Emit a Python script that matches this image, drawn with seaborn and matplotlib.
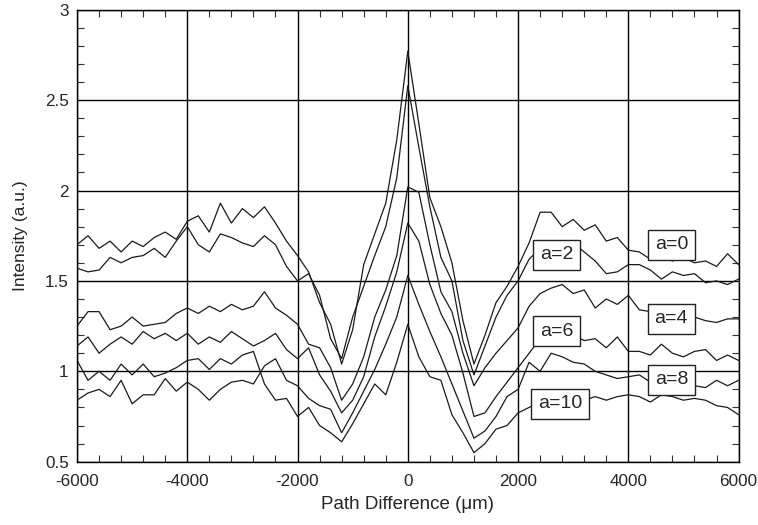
import numpy as np
import pandas as pd
import matplotlib
matplotlib.use("Agg")
import matplotlib.pyplot as plt
from matplotlib.ticker import MultipleLocator, FuncFormatter
import seaborn as sns

# ---- data ----
path_diff = list(range(-6000, 6001, 200))

a0 = [1.70, 1.75, 1.68, 1.72, 1.66, 1.72, 1.69, 1.74, 1.77, 1.73, 1.83,
      1.86, 1.77, 1.93, 1.82, 1.90, 1.85, 1.91, 1.82, 1.72, 1.64,
      1.55, 1.38, 1.26, 1.04, 1.23, 1.59, 1.76, 1.93, 2.28, 2.77,
      2.37, 1.96, 1.80, 1.60, 1.28, 1.04, 1.20, 1.38, 1.47, 1.58,
      1.71, 1.88, 1.88, 1.80, 1.84, 1.78, 1.81, 1.72, 1.74, 1.67,
      1.66, 1.62, 1.64, 1.61, 1.63, 1.60, 1.61, 1.58, 1.65, 1.59]

a2 = [1.57, 1.55, 1.56, 1.63, 1.60, 1.63, 1.64, 1.68, 1.63, 1.72, 1.80,
      1.70, 1.66, 1.76, 1.74, 1.71, 1.69, 1.75, 1.70, 1.58, 1.50,
      1.54, 1.42, 1.18, 1.07, 1.30, 1.47, 1.64, 1.80, 2.07, 2.58,
      2.24, 1.91, 1.63, 1.50, 1.17, 0.98, 1.14, 1.30, 1.42, 1.50,
      1.62, 1.68, 1.72, 1.70, 1.71, 1.66, 1.61, 1.54, 1.55, 1.59,
      1.59, 1.56, 1.51, 1.55, 1.53, 1.54, 1.49, 1.50, 1.48, 1.51]

a4 = [1.25, 1.33, 1.33, 1.23, 1.25, 1.30, 1.25, 1.26, 1.27, 1.32, 1.35,
      1.32, 1.36, 1.33, 1.37, 1.34, 1.36, 1.44, 1.35, 1.31, 1.26,
      1.15, 1.13, 1.02, 0.84, 0.93, 1.08, 1.30, 1.45, 1.64, 2.02,
      1.99, 1.70, 1.44, 1.33, 1.10, 0.92, 1.02, 1.10, 1.17, 1.24,
      1.36, 1.43, 1.46, 1.48, 1.43, 1.45, 1.35, 1.40, 1.37, 1.42,
      1.34, 1.33, 1.31, 1.31, 1.30, 1.30, 1.28, 1.27, 1.29, 1.29]

a6 = [1.14, 1.19, 1.10, 1.15, 1.19, 1.15, 1.22, 1.18, 1.21, 1.17, 1.21,
      1.15, 1.19, 1.16, 1.22, 1.18, 1.14, 1.17, 1.21, 1.12, 1.07,
      1.13, 0.98, 0.89, 0.77, 0.84, 0.97, 1.19, 1.36, 1.55, 1.82,
      1.72, 1.48, 1.32, 1.20, 0.99, 0.75, 0.77, 0.86, 0.94, 1.02,
      1.10, 1.18, 1.21, 1.22, 1.20, 1.17, 1.18, 1.13, 1.19, 1.11,
      1.11, 1.09, 1.15, 1.10, 1.08, 1.11, 1.12, 1.06, 1.09, 1.06]

a8 = [0.84, 0.88, 0.90, 0.86, 0.95, 0.82, 0.87, 0.87, 0.96, 0.89, 0.94,
      0.90, 0.84, 0.90, 0.94, 0.95, 0.93, 1.03, 1.07, 0.95, 0.92,
      0.85, 0.81, 0.79, 0.66, 0.77, 0.89, 1.01, 1.15, 1.30, 1.53,
      1.37, 1.22, 1.08, 0.93, 0.78, 0.63, 0.67, 0.75, 0.86, 0.90,
      1.05, 1.00, 1.10, 1.08, 1.05, 1.04, 1.00, 0.98, 0.96, 0.97,
      0.98, 0.94, 0.95, 0.94, 0.93, 0.92, 0.91, 0.95, 0.92, 0.95]

a10 = [1.06, 0.95, 1.00, 0.95, 1.04, 0.98, 1.04, 0.97, 0.99, 1.02, 1.06,
       1.07, 1.01, 1.07, 1.04, 1.09, 1.11, 0.93, 0.84, 0.85, 0.75,
       0.80, 0.70, 0.66, 0.61, 0.71, 0.82, 0.93, 0.87, 1.05, 1.26,
       1.08, 0.97, 0.95, 0.76, 0.66, 0.55, 0.60, 0.68, 0.70, 0.77,
       0.80, 0.83, 0.85, 0.85, 0.85, 0.84, 0.86, 0.84, 0.86, 0.87,
       0.86, 0.83, 0.87, 0.86, 0.84, 0.85, 0.84, 0.81, 0.80, 0.76]

series_names = ["a=0", "a=2", "a=4", "a=6", "a=8", "a=10"]
series_values = [a0, a2, a4, a6, a8, a10]

# label box positions (data coords)
label_x = [4780, 2700, 4780, 2700, 4780, 2760]
label_y = [1.70, 1.645, 1.29, 1.222, 0.953, 0.821]

x_ticks = [-6000, -4000, -2000, 0, 2000, 4000, 6000]
y_ticks = [0.5, 1, 1.5, 2, 2.5, 3]

# ---- build long-form table ----
frames = []
for name, vals in zip(series_names, series_values):
    frames.append(pd.DataFrame({"x": path_diff, "y": vals, "series": name}))
df = pd.concat(frames, ignore_index=True)

sns.set_style("white")
plt.rcParams["font.family"] = ["Liberation Sans", "DejaVu Sans"]
plt.rcParams["axes.unicode_minus"] = False

fig = plt.figure(figsize=(7.58, 5.25), dpi=100)
ax = fig.add_axes([0.1016, 0.1206, 0.8728, 0.8609])

sns.lineplot(data=df, x="x", y="y", hue="series", hue_order=series_names,
             palette=["#1a1a1a"] * 6, estimator=None, sort=True,
             legend=False, linewidth=0.9, ax=ax)

ax.set_xlim(-6000, 6000)
ax.set_ylim(0.5, 3)
ax.set_xticks(x_ticks)
ax.set_yticks(y_ticks)
ax.xaxis.set_minor_locator(MultipleLocator(400))
ax.yaxis.set_minor_locator(MultipleLocator(0.1))
ax.yaxis.set_major_formatter(FuncFormatter(lambda v, p: "%g" % v))
ax.xaxis.set_major_formatter(FuncFormatter(lambda v, p: "%d" % v))

ax.grid(True, which="major", color="black", linewidth=1.0)
ax.set_axisbelow(True)
ax.tick_params(which="both", direction="in", top=True, right=True,
               bottom=True, left=True, color="#333333")
ax.tick_params(which="major", length=0, labelsize=12.3)
ax.tick_params(axis="x", which="major", pad=9)
ax.tick_params(axis="y", which="major", pad=6)
ax.tick_params(which="minor", length=5, width=0.8)

for sp in ax.spines.values():
    sp.set_color("black")
    sp.set_linewidth(1.0)

ax.set_xlabel("Path Difference (\u03bcm)", fontsize=13.5, labelpad=5)
ax.set_ylabel("Intensity (a.u.)", fontsize=12.5, labelpad=12)

for name, lx, ly in zip(series_names, label_x, label_y):
    ax.text(lx, ly, name, fontsize=14, ha="center", va="center", zorder=5,
            bbox=dict(boxstyle="square,pad=0.34", facecolor="white",
                      edgecolor="#222222", linewidth=1.0))

fig.savefig("out.png", dpi=100)
